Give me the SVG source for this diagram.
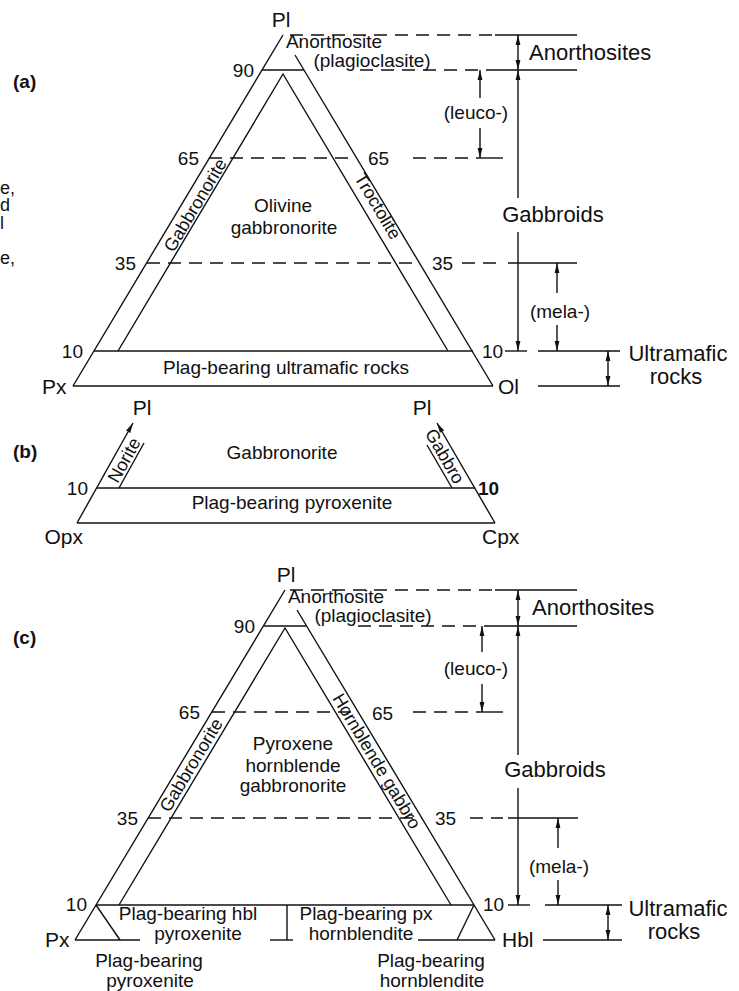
<svg xmlns="http://www.w3.org/2000/svg" width="739" height="991" viewBox="0 0 739 991">
<defs>
<style>
.ln{stroke:#111;stroke-width:1.4;fill:none}
.ds{stroke:#111;stroke-width:1.4;fill:none;stroke-dasharray:13 8}
.ar{stroke:#111;stroke-width:1.4;fill:none;marker-end:url(#ah)}
.ar2{stroke:#111;stroke-width:1.4;fill:none;marker-start:url(#ah);marker-end:url(#ah)}
.ars{stroke:#111;stroke-width:1.4;fill:none;marker-start:url(#ah)}
text{font-family:"Liberation Sans",Arial,Helvetica,sans-serif;fill:#111;font-size:19px}
.m{text-anchor:middle}
.e{text-anchor:end}
.big{font-size:22px}
.v{font-size:21px}
.fr{font-size:18px;text-anchor:end}
.rot{font-size:18px;text-anchor:middle}
.b{font-weight:bold}
</style>
<marker id="ah" viewBox="0 0 10 6" refX="10" refY="3" markerWidth="10" markerHeight="6" markerUnits="userSpaceOnUse" orient="auto-start-reverse"><path d="M0,0.6 L10,3 L0,5.4 z" fill="#111"/></marker>
</defs>
<rect width="739" height="991" fill="#fff"/>

<g id="fragments">
<text class="fr" x="15" y="194">e,</text>
<text class="fr" x="10" y="211">d</text>
<text class="fr" x="4" y="229">l</text>
<text class="fr" x="15" y="264">e,</text>
</g>

<!-- (a) -->
<g id="diagram-a">
<text class="b" x="13" y="88">(a)</text>
<g id="a-triangle">
<line class="ln" x1="283" y1="35" x2="73" y2="386"/>
<line class="ln" x1="295" y1="55" x2="493" y2="386"/>
<line class="ln" x1="73" y1="386" x2="493" y2="386"/>
<line class="ln" x1="262" y1="70" x2="304" y2="70"/>
<polyline class="ln" points="118,351 283,74 448,351"/>
<line class="ln" x1="94" y1="351" x2="473" y2="351"/>
<line class="ds" x1="209" y1="158" x2="357" y2="158"/>
<line class="ds" x1="147" y1="263" x2="420" y2="263"/>
</g>
<g id="a-labels">
<text class="m v" x="281" y="27">Pl</text>
<text class="m" x="334" y="48">Anorthosite</text>
<text class="m" x="372" y="67">(plagioclasite)</text>
<text class="e" x="254" y="77">90</text>
<text class="e" x="199" y="165">65</text>
<text class="e" x="136" y="270">35</text>
<text class="e" x="83" y="358">10</text>
<text x="368" y="165">65</text>
<text x="432" y="270">35</text>
<text x="482" y="358">10</text>
<text class="m" x="283" y="212">Olivine</text>
<text class="m" x="284" y="234">gabbronorite</text>
<text class="m" x="286" y="374">Plag-bearing ultramafic rocks</text>
<text class="v" x="42" y="394">Px</text>
<text class="v" x="498" y="394">Ol</text>
<text class="rot" transform="translate(195,205) rotate(-59.1)" dy="0.35em">Gabbronorite</text>
<text class="rot" transform="translate(378,206) rotate(59.1)" dy="0.35em">Troctolite</text>
</g>
<g id="a-scale">
<line class="ds" x1="290" y1="35" x2="495" y2="35"/>
<line class="ln" x1="495" y1="35" x2="577" y2="35"/>
<line class="ds" x1="360" y1="70" x2="495" y2="70"/>
<line class="ln" x1="495" y1="70" x2="577" y2="70"/>
<line class="ds" x1="413" y1="158" x2="478" y2="158"/>
<line class="ln" x1="478" y1="158" x2="503" y2="158"/>
<line class="ds" x1="462" y1="263" x2="503" y2="263"/>
<line class="ln" x1="508" y1="263" x2="577" y2="263"/>
<line class="ln" x1="505" y1="351" x2="527" y2="351"/>
<line class="ln" x1="538" y1="351" x2="620" y2="351"/>
<line class="ln" x1="538" y1="386" x2="620" y2="386"/>
<line class="ar2" x1="518" y1="35" x2="518" y2="70"/>
<line class="ars" x1="518" y1="70" x2="518" y2="198"/>
<line class="ar" x1="518" y1="232" x2="518" y2="351"/>
<line class="ars" x1="480" y1="70" x2="480" y2="98"/>
<line class="ar" x1="480" y1="128" x2="480" y2="158"/>
<line class="ars" x1="557" y1="263" x2="557" y2="293"/>
<line class="ar" x1="557" y1="325" x2="557" y2="351"/>
<line class="ar2" x1="608" y1="351" x2="608" y2="386"/>
<text class="big" x="529" y="60">Anorthosites</text>
<text class="m" x="476" y="119">(leuco-)</text>
<text class="m big" x="553" y="222">Gabbroids</text>
<text class="m" x="560" y="318">(mela-)</text>
<text class="m big" x="678" y="361">Ultramafic</text>
<text class="m big" x="676" y="384">rocks</text>
</g>
</g>

<!-- (b) -->
<g id="diagram-b">
<text class="b" x="13" y="458">(b)</text>
<g id="b-triangle">
<line class="ar" x1="77" y1="523" x2="133" y2="423"/>
<line class="ar" x1="495" y1="523" x2="437" y2="423"/>
<line class="ln" x1="77" y1="523" x2="495" y2="523"/>
<line class="ln" x1="97" y1="488" x2="475" y2="488"/>
<line class="ln" x1="119" y1="488" x2="144" y2="443"/>
<line class="ln" x1="452" y1="488" x2="427" y2="445"/>
</g>
<g id="b-labels">
<text class="m v" x="142" y="415">Pl</text>
<text class="m v" x="422" y="415">Pl</text>
<text class="e" x="88" y="495">10</text>
<text class="b" x="478" y="495">10</text>
<text class="m" x="282" y="459">Gabbronorite</text>
<text class="m" x="292" y="509">Plag-bearing pyroxenite</text>
<text class="e v" x="83" y="544">Opx</text>
<text class="v" x="482" y="544">Cpx</text>
<text class="rot" transform="translate(124,460) rotate(-60.8)" dy="0.35em">Norite</text>
<text class="rot" transform="translate(445,456) rotate(60)" dy="0.35em">Gabbro</text>
</g>
</g>

<!-- (c) -->
<g id="diagram-c">
<text class="b" x="13" y="644">(c)</text>
<g id="c-triangle">
<line class="ln" x1="285" y1="590" x2="75" y2="940"/>
<line class="ln" x1="297" y1="610" x2="495" y2="940"/>
<line class="ln" x1="75" y1="940" x2="140" y2="940"/>
<line class="ln" x1="270" y1="940" x2="293" y2="940"/>
<line class="ln" x1="418" y1="940" x2="495" y2="940"/>
<line class="ln" x1="264" y1="626" x2="306" y2="626"/>
<polyline class="ln" points="119,905 285,628 451,905"/>
<line class="ln" x1="96" y1="905" x2="474" y2="905"/>
<line class="ln" x1="96" y1="905" x2="120" y2="940"/>
<line class="ln" x1="474" y1="905" x2="457" y2="940"/>
<line class="ln" x1="287" y1="905" x2="287" y2="940"/>
<line class="ds" x1="212" y1="712" x2="358" y2="712"/>
<line class="ds" x1="148" y1="818" x2="422" y2="818"/>
</g>
<g id="c-labels">
<text class="m v" x="286" y="582">Pl</text>
<text class="m" x="336" y="603">Anorthosite</text>
<text class="m" x="373" y="622">(plagioclasite)</text>
<text class="e" x="255" y="633">90</text>
<text class="e" x="200" y="719">65</text>
<text class="e" x="138" y="825">35</text>
<text class="e" x="87" y="911">10</text>
<text x="372" y="720">65</text>
<text x="435" y="825">35</text>
<text x="483" y="911">10</text>
<text class="m" x="293" y="750">Pyroxene</text>
<text class="m" x="293" y="772">hornblende</text>
<text class="m" x="293" y="792">gabbronorite</text>
<text class="rot" transform="translate(191,765) rotate(-59)" dy="0.35em">Gabbronorite</text>
<text class="rot" transform="translate(377,761) rotate(59)" dy="0.35em">Hornblende gabbro</text>
<text class="m" x="188" y="920">Plag-bearing hbl</text>
<text class="m" x="198" y="940">pyroxenite</text>
<text class="m" x="366" y="920">Plag-bearing px</text>
<text class="m" x="361" y="940">hornblendite</text>
<text class="m" x="149" y="967">Plag-bearing</text>
<text class="m" x="150" y="987">pyroxenite</text>
<text class="m" x="431" y="967">Plag-bearing</text>
<text class="m" x="432" y="987">hornblendite</text>
<text class="v" x="45" y="947">Px</text>
<text class="v" x="502" y="947">Hbl</text>
</g>
<g id="c-scale">
<line class="ds" x1="290" y1="590" x2="495" y2="590"/>
<line class="ln" x1="495" y1="590" x2="577" y2="590"/>
<line class="ds" x1="358" y1="626" x2="495" y2="626"/>
<line class="ln" x1="495" y1="626" x2="577" y2="626"/>
<line class="ds" x1="413" y1="712" x2="480" y2="712"/>
<line class="ln" x1="480" y1="712" x2="503" y2="712"/>
<line class="ds" x1="470" y1="818" x2="503" y2="818"/>
<line class="ln" x1="508" y1="818" x2="578" y2="818"/>
<line class="ln" x1="508" y1="905" x2="530" y2="905"/>
<line class="ln" x1="545" y1="905" x2="622" y2="905"/>
<line class="ln" x1="543" y1="940" x2="622" y2="940"/>
<line class="ar2" x1="518" y1="590" x2="518" y2="626"/>
<line class="ars" x1="518" y1="626" x2="518" y2="755"/>
<line class="ar" x1="518" y1="788" x2="518" y2="905"/>
<line class="ars" x1="482" y1="626" x2="482" y2="652"/>
<line class="ar" x1="482" y1="684" x2="482" y2="712"/>
<line class="ars" x1="558" y1="818" x2="558" y2="848"/>
<line class="ar" x1="558" y1="880" x2="558" y2="905"/>
<line class="ar2" x1="608" y1="905" x2="608" y2="940"/>
<text class="big" x="532" y="615">Anorthosites</text>
<text class="m" x="476" y="675">(leuco-)</text>
<text class="m big" x="555" y="777">Gabbroids</text>
<text class="m" x="559" y="873">(mela-)</text>
<text class="m big" x="678" y="916">Ultramafic</text>
<text class="m big" x="674" y="939">rocks</text>
</g>
</g>
</svg>
